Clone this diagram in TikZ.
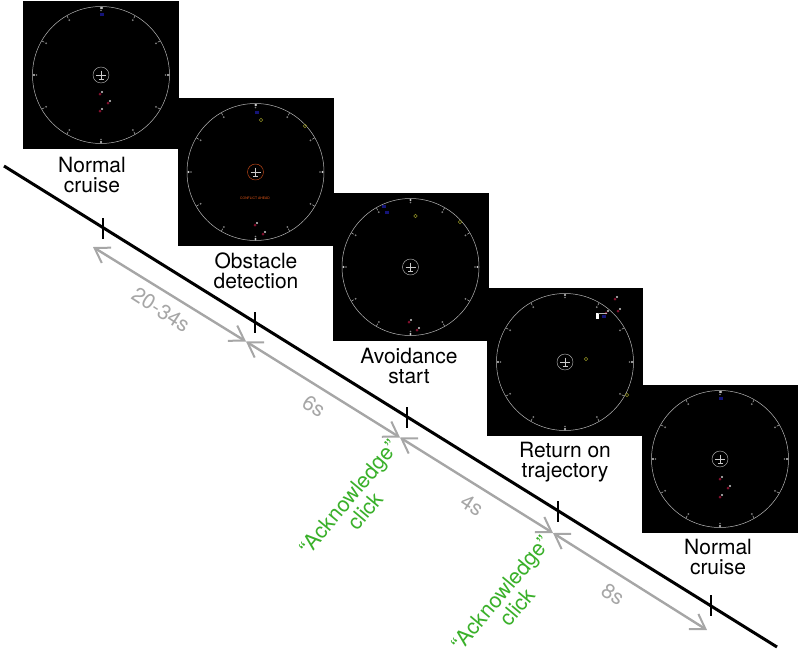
\documentclass[tikz,border=0pt]{standalone}
\usepackage{fontspec}
\setmainfont{TeX Gyre Heros}
\usetikzlibrary{arrows.meta}
\definecolor{timegray}{gray}{0.65}
\definecolor{clickgreen}{RGB}{58,176,42}
\definecolor{ringgray}{gray}{0.72}
\definecolor{markgray}{gray}{0.5}
\definecolor{conflictred}{RGB}{200,75,25}
\definecolor{conflicttext}{RGB}{235,90,25}
\definecolor{traffred}{RGB}{130,15,45}
\definecolor{traffwhite}{gray}{0.8}
\definecolor{traffblue}{RGB}{20,20,120}
\definecolor{goalyellow}{RGB}{140,140,35}
\tikzset{
  phase/.style={font=\fontsize{21}{20}\selectfont,align=center,text=black,inner sep=0pt},
  duration/.style={font=\fontsize{21}{20}\selectfont,text=timegray,rotate=-33,inner sep=0pt},
  ackclick/.style={font=\fontsize{21.5}{19.5}\selectfont,align=center,text=clickgreen,rotate=50,inner sep=0pt},
  timetick/.style={fill=black,minimum width=2pt,minimum height=21pt,inner sep=0pt},
  timearrow/.style={draw=timegray,line width=2.4pt,{Straight Barb[length=14pt,width=18pt,line width=2pt]}-{Straight Barb[length=14pt,width=18pt,line width=2pt]}},
  pics/radar/.style={code={
    \fill[black] (-78,-74) rectangle (78,74);
    \draw[ringgray,line width=0.5pt] (0,0) circle (68.5);
    \foreach \a in {30,60,120,150,210,240,300,330} {
      \draw[ringgray,line width=0.5pt] (\a:68) -- (\a:65.5);
      \fill[markgray] (\a:63.5) circle (1);
    }
    \foreach \a in {0,90,180,270} {
      \fill[traffwhite] (\a:67) circle (1.2);
      \fill[markgray] (\a:64.5) circle (0.8);
    }
    \draw[#1,line width=0.45pt] (0,0) circle (8);
    \draw[traffwhite,line width=0.7pt] (-5,0.5) -- (5,0.5) (0,-4.5) -- (0,4.5) (-2.5,4.5) -- (2.5,4.5);
  }},
  pics/traffic/.style={code={
    \fill[traffred] (-2,2) circle (1.5);
    \fill[traffwhite] (0,0) circle (1.2);
  }},
  pics/goal/.style={code={
    \draw[goalyellow,line width=0.6pt] (0,0) circle (1.7);
  }},
  pics/intruder/.style={code={
    \fill[traffblue] (-2,-1.5) rectangle (2,1.5);
  }},
}
\begin{document}
\begin{tikzpicture}[x=1pt,y=-1pt]
  \useasboundingbox (0,0) rectangle (800,649);
  % screenshots
  \pic (radarA) at (101,75) {radar=ringgray};
  \foreach \x/\y in {102/92,110/101,102/109} \pic at (\x,\y) {traffic};
  \pic at (102,14) {intruder};
  \fill[traffwhite] (102,8) circle (1.1);

  \pic (radarB) at (255.5,172) {radar=conflictred};
  \foreach \x/\y in {257/223,265/232} \pic at (\x,\y) {traffic};
  \foreach \x/\y in {261/120,305/126} \pic at (\x,\y) {goal};
  \pic at (257,112) {intruder};
  \fill[traffwhite] (256,105) circle (1.1);
  \node[text=conflicttext,font=\fontsize{3.4}{4}\selectfont,inner sep=0pt] (conflict) at (255,198.5) {CONFLICT AHEAD};

  \pic (radarC) at (410.5,267) {radar=ringgray};
  \foreach \x/\y in {411/320,419/328} \pic at (\x,\y) {traffic};
  \foreach \x/\y in {415.5/216,460/222} \pic at (\x,\y) {goal};
  \pic at (384,206) {intruder};
  \pic at (387,212) {intruder};

  \pic (radarD) at (565,362) {radar=ringgray};
  \foreach \x/\y in {617/297,620/309,608/311} \pic at (\x,\y) {traffic};
  \foreach \x/\y in {586/359,627/395} \pic at (\x,\y) {goal};
  \pic at (604,316) {intruder};
  \fill[white] (595.5,313) rectangle (598.5,319);
  \draw[ringgray,line width=0.4pt] (598,313.5) -- (607,313.5);

  \pic (radarE) at (720,459) {radar=ringgray};
  \foreach \x/\y in {722/477,730/486,722/495} \pic at (\x,\y) {traffic};
  \pic at (721,398) {intruder};
  \fill[traffwhite] (721,392) circle (1.1);

  % phase names
  \node[phase] (normalA) at (92,175) {Normal\\cruise};
  \node[phase] (obstacle) at (256,271) {Obstacle\\detection};
  \node[phase] (avoid) at (409,366) {Avoidance\\start};
  \node[phase] (back) at (565,462) {Return on\\trajectory};
  \node[phase] (normalB) at (718,557) {Normal\\cruise};

  % time line
  \coordinate (lineA) at (4,166);
  \coordinate (lineB) at (777,647);
  \draw[black,line width=3pt] (lineA) -- (lineB);
  \node[timetick] (tickA) at (102.5,228) {};
  \node[timetick] (tickB) at (255,322.5) {};
  \node[timetick] (tickC) at (407,417.5) {};
  \node[timetick] (tickD) at (558,511) {};
  \node[timetick] (tickE) at (710.5,605.5) {};

  % durations
  \coordinate (stepA) at (93,247);
  \coordinate (stepB) at (246,341.5);
  \coordinate (stepC) at (400,437.5);
  \coordinate (stepD) at (553,533);
  \coordinate (stepE) at (707,630);
  \draw[timearrow] (stepA) -- (stepB);
  \draw[timearrow] (stepB) -- (stepC);
  \draw[timearrow] (stepC) -- (stepD);
  \draw[timearrow] (stepD) -- (stepE);
  \node[duration] (durA) at (161,310) {20-34s};
  \node[duration] (durB) at (314,406) {6s};
  \node[duration] (durC) at (472,505) {4s};
  \node[duration] (durD) at (613,594) {8s};

  % clicks
  \node[ackclick] (clickA) at (357,504) {“Acknowledge”\\click};
  \node[ackclick] (clickB) at (509,600) {“Acknowledge”\\click};
\end{tikzpicture}
\end{document}
